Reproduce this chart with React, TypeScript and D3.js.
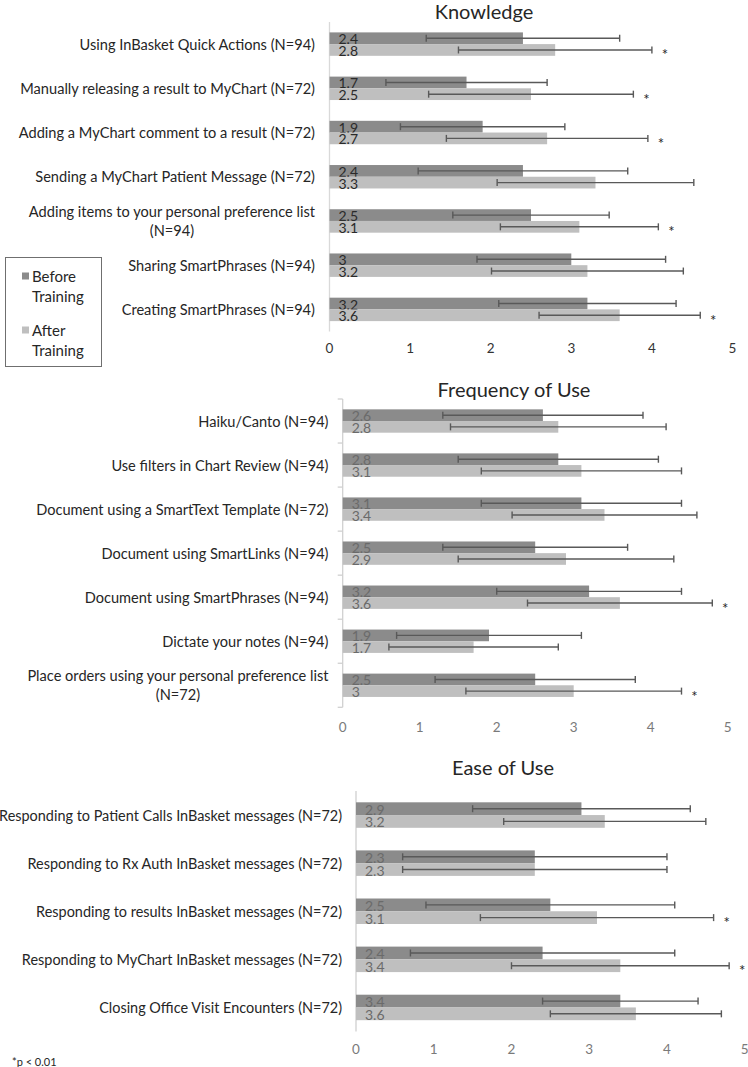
import React, { useEffect, useRef } from 'react';
import * as d3 from 'd3';

// ---------- DATA ----------
const knowledgeTitle = 'Knowledge';
const knowledgeCategories = [
  'Using InBasket Quick Actions (N=94)',
  'Manually releasing a result to MyChart (N=72)',
  'Adding a MyChart comment to a result (N=72)',
  'Sending a MyChart Patient Message (N=72)',
  'Adding items to your personal preference list\n(N=94)',
  'Sharing SmartPhrases (N=94)',
  'Creating SmartPhrases (N=94)',
];
const knowledgeBefore = [2.4, 1.7, 1.9, 2.4, 2.5, 3, 3.2];
const knowledgeAfter = [2.8, 2.5, 2.7, 3.3, 3.1, 3.2, 3.6];
const knowledgeBeforeErr = [1.2, 1.0, 1.02, 1.3, 0.97, 1.17, 1.1];
const knowledgeAfterErr = [1.2, 1.27, 1.25, 1.22, 0.98, 1.19, 1.0];
const knowledgeSig = [true, true, true, false, true, false, true];

const frequencyTitle = 'Frequency of Use';
const frequencyCategories = [
  'Haiku/Canto (N=94)',
  'Use filters in Chart Review (N=94)',
  'Document using a SmartText Template (N=72)',
  'Document using SmartLinks (N=94)',
  'Document using SmartPhrases (N=94)',
  'Dictate your notes (N=94)',
  'Place orders using your personal preference list\n(N=72)',
];
const frequencyBefore = [2.6, 2.8, 3.1, 2.5, 3.2, 1.9, 2.5];
const frequencyAfter = [2.8, 3.1, 3.4, 2.9, 3.6, 1.7, 3];
const frequencyBeforeErr = [1.3, 1.3, 1.3, 1.2, 1.2, 1.2, 1.3];
const frequencyAfterErr = [1.4, 1.3, 1.2, 1.4, 1.2, 1.1, 1.4];
const frequencySig = [false, false, false, false, true, false, true];

const easeTitle = 'Ease of Use';
const easeCategories = [
  'Responding to Patient Calls InBasket messages (N=72)',
  'Responding to Rx Auth InBasket messages (N=72)',
  'Responding to results InBasket messages (N=72)',
  'Responding to MyChart InBasket messages (N=72)',
  'Closing Office Visit Encounters (N=72)',
];
const easeBefore = [2.9, 2.3, 2.5, 2.4, 3.4];
const easeAfter = [3.2, 2.3, 3.1, 3.4, 3.6];
const easeBeforeErr = [1.4, 1.7, 1.6, 1.7, 1.0];
const easeAfterErr = [1.3, 1.7, 1.5, 1.4, 1.1];
const easeSig = [false, false, true, true, false];

const xTicks = [0, 1, 2, 3, 4, 5];
const seriesNames = ['Before Training', 'After Training'];
const legendLines = [['Before', 'Training'], ['After', 'Training']];
const footnote = '*p < 0.01';

// ---------- STYLE / LAYOUT ----------
const FONT = "Lato, 'Liberation Sans', sans-serif";
const DARK = '#8b8b8b';
const LIGHT = '#bfbfbf';
const ERR = '#595959';

const panels = [
  {
    title: knowledgeTitle, categories: knowledgeCategories, before: knowledgeBefore, after: knowledgeAfter,
    beforeErr: knowledgeBeforeErr, afterErr: knowledgeAfterErr, sig: knowledgeSig,
    layout: { x0: 329.5, x1: 732.5, top: 22, bottom: 331.5, tickY: 348, titleX: 484, titleY: 10.5, labelRight: 315,
      labelSize: 14.6, axisTicks: false, valueColor: '#2a2a2a', tickColor: '#333333', axisColor: '#d9d9d9' },
  },
  {
    title: frequencyTitle, categories: frequencyCategories, before: frequencyBefore, after: frequencyAfter,
    beforeErr: frequencyBeforeErr, afterErr: frequencyAfterErr, sig: frequencySig,
    layout: { x0: 342.7, x1: 727.7, top: 399, bottom: 707.3, tickY: 727, titleX: 514, titleY: 389, labelRight: 328.5,
      labelSize: 14.6, axisTicks: true, valueColor: '#6a6a6a', tickColor: '#7a7a7a', axisColor: '#d0d0d0' },
  },
  {
    title: easeTitle, categories: easeCategories, before: easeBefore, after: easeAfter,
    beforeErr: easeBeforeErr, afterErr: easeAfterErr, sig: easeSig,
    layout: { x0: 356, x1: 744.7, top: 791, bottom: 1031.5, tickY: 1049, titleX: 503, titleY: 767, labelRight: 342,
      labelSize: 14.45, axisTicks: false, valueColor: '#6a6a6a', tickColor: '#7a7a7a', axisColor: '#d0d0d0' },
  },
];

function drawPanel(svg: any, p: any) {
  const L = p.layout;
  const g = svg.append('g');
  const x = d3.scaleLinear().domain([0, 5]).range([L.x0, L.x1]);
  const y = d3.scaleBand<string>().domain(p.categories).range([L.top, L.bottom])
    .paddingInner(0.47).paddingOuter(0.235);
  const sub = d3.scaleBand<string>().domain(seriesNames).range([0, y.bandwidth()]);

  g.append('text').attr('x', L.titleX).attr('y', L.titleY).attr('text-anchor', 'middle')
    .attr('dominant-baseline', 'central').attr('font-size', 20).attr('fill', '#262626').text(p.title);

  g.append('line').attr('x1', x(0)).attr('x2', x(0)).attr('y1', L.top).attr('y2', L.bottom)
    .attr('stroke', L.axisColor).attr('stroke-width', 1.3);
  if (L.axisTicks) {
    const step = y.step();
    d3.range(p.categories.length + 1).forEach((i: number) => {
      const yy = L.top + i * step;
      g.append('line').attr('x1', x(0) - 5).attr('x2', x(0)).attr('y1', yy).attr('y2', yy)
        .attr('stroke', L.axisColor).attr('stroke-width', 1.3);
    });
  }

  g.selectAll('.tick').data(xTicks).enter().append('text')
    .attr('x', (d: number) => x(d)).attr('y', L.tickY).attr('text-anchor', 'middle')
    .attr('dominant-baseline', 'central').attr('font-size', 13.5).attr('fill', L.tickColor)
    .text((d: number) => String(d));

  p.categories.forEach((cat: string, i: number) => {
    const cy = (y(cat) as number) + y.bandwidth() / 2;
    const lines = cat.split('\n');
    if (lines.length === 1) {
      g.append('text').attr('x', L.labelRight).attr('y', cy).attr('text-anchor', 'end')
        .attr('dominant-baseline', 'central').attr('font-size', L.labelSize).attr('fill', '#262626').text(lines[0]);
    } else {
      const t1 = g.append('text').attr('x', L.labelRight).attr('y', cy - 9.5).attr('text-anchor', 'end')
        .attr('dominant-baseline', 'central').attr('font-size', L.labelSize).attr('fill', '#262626').text(lines[0]);
      const w = (t1.node() as SVGTextElement).getComputedTextLength();
      g.append('text').attr('x', L.labelRight - w / 2).attr('y', cy + 9.5).attr('text-anchor', 'middle')
        .attr('dominant-baseline', 'central').attr('font-size', L.labelSize).attr('fill', '#262626').text(lines[1]);
    }

    const series = [
      { name: seriesNames[0], v: p.before[i], e: p.beforeErr[i], color: DARK, sig: false },
      { name: seriesNames[1], v: p.after[i], e: p.afterErr[i], color: LIGHT, sig: p.sig[i] },
    ];
    series.forEach((s) => {
      const by = (y(cat) as number) + (sub(s.name) as number);
      const bh = sub.bandwidth();
      const my = by + bh / 2;
      g.append('rect').attr('x', x(0)).attr('y', by).attr('width', x(s.v) - x(0)).attr('height', bh)
        .attr('fill', s.color);
      g.append('text').attr('x', x(0) + 9).attr('y', my + 0.5).attr('dominant-baseline', 'central')
        .attr('font-size', 14).attr('fill', L.valueColor).text(String(s.v));
      const xl = x(s.v - s.e), xr = x(s.v + s.e);
      g.append('line').attr('x1', xl).attr('x2', xr).attr('y1', my).attr('y2', my)
        .attr('stroke', ERR).attr('stroke-width', 1.4);
      [xl, xr].forEach((xx) => {
        g.append('line').attr('x1', xx).attr('x2', xx).attr('y1', my - 3.5).attr('y2', my + 3.5)
          .attr('stroke', ERR).attr('stroke-width', 1.4);
      });
      if (s.sig) {
        g.append('text').attr('x', xr + 13).attr('y', my + 4.5).attr('text-anchor', 'middle')
          .attr('dominant-baseline', 'central')
          .attr('font-size', 15).attr('fill', '#262626').text('*');
      }
    });
  });
}

export default function App() {
  const ref = useRef<SVGSVGElement>(null);
  useEffect(() => {
    document.body.style.margin = '0';
    const svg = d3.select(ref.current);
    svg.selectAll('*').remove();
    svg.append('rect').attr('width', 748).attr('height', 1067).attr('fill', '#ffffff');
    panels.forEach((p) => drawPanel(svg, p));

    // legend
    const lg = svg.append('g');
    lg.append('rect').attr('x', 5.5).attr('y', 257.5).attr('width', 96).attr('height', 109)
      .attr('fill', 'none').attr('stroke', '#6f6f6f').attr('stroke-width', 1);
    const legendY = [276, 330];
    [DARK, LIGHT].forEach((c, i) => {
      lg.append('rect').attr('x', 22).attr('y', legendY[i] - 3.5).attr('width', 7).attr('height', 7).attr('fill', c);
      legendLines[i].forEach((t, j) => {
        lg.append('text').attr('x', 32).attr('y', legendY[i] + j * 19.5).attr('dominant-baseline', 'central')
          .attr('font-size', 15).attr('fill', '#262626').text(t);
      });
    });

    svg.append('text').attr('x', 12).attr('y', 1061).attr('dominant-baseline', 'central')
      .attr('font-size', 11).attr('fill', '#262626').text(footnote);
  }, []);
  return (
    <svg ref={ref} width={748} height={1067} style={{ position: 'absolute', left: 0, top: 0, fontFamily: FONT }} />
  );
}
